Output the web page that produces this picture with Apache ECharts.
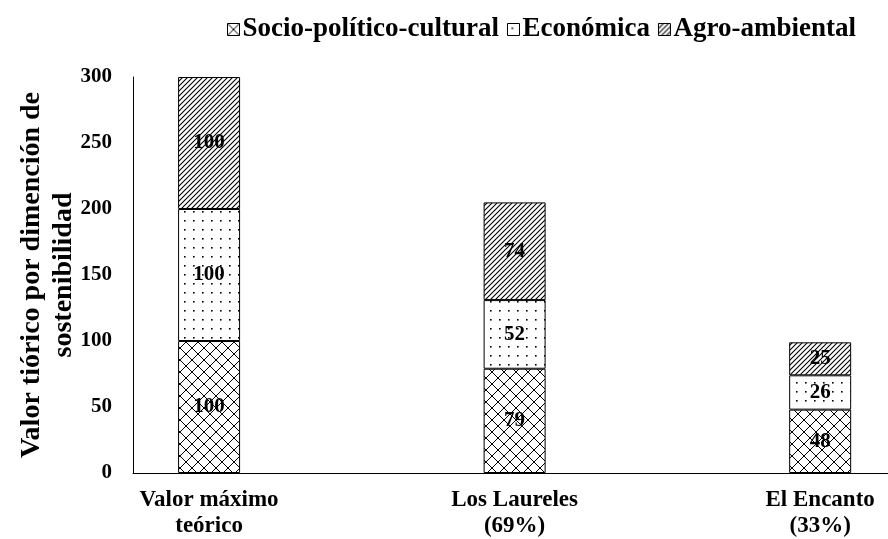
<!DOCTYPE html>
<html>
<head>
<meta charset="utf-8">
<script src="https://cdn.jsdelivr.net/npm/echarts@6/dist/echarts.min.js"></script>
<style>
  html, body { margin: 0; padding: 0; background: #fff; }
  #chart { width: 888px; height: 539px; }
</style>
</head>
<body>
<div id="chart"></div>
<script>
  var categories = ["Valor máximo\nteórico", "Los Laureles\n(69%)", "El Encanto\n(33%)"];
  var socio = [100, 79, 48];     // Socio-político-cultural
  var economica = [100, 52, 26]; // Económica
  var agro = [100, 74, 25];      // Agro-ambiental
  var yTicks = [0, 50, 100, 150, 200, 250, 300];

  var font = "'Liberation Serif', 'Times New Roman', serif";

  // patrones de relleno
  function makePattern(size, draw) {
    var c = document.createElement('canvas');
    c.width = size;
    c.height = size;
    var ctx = c.getContext('2d');
    ctx.fillStyle = '#fff';
    ctx.fillRect(0, 0, size, size);
    ctx.strokeStyle = '#000';
    ctx.fillStyle = '#000';
    draw(ctx, size);
    return { image: c, repeat: 'repeat' };
  }

  var crossHatch = makePattern(12, function (ctx, s) {
    ctx.lineWidth = 1;
    ctx.beginPath();
    ctx.moveTo(0, 0); ctx.lineTo(s, s);
    ctx.moveTo(s, 0); ctx.lineTo(0, s);
    ctx.stroke();
  });
  var dots = makePattern(9, function (ctx, s) {
    ctx.fillRect(4, 4, 1.6, 1.6);
  });
  var diag = makePattern(5, function (ctx, s) {
    ctx.lineWidth = 1.1;
    ctx.beginPath();
    ctx.moveTo(-1, s + 1); ctx.lineTo(s + 1, -1);
    ctx.moveTo(-1, 1); ctx.lineTo(1, -1);
    ctx.moveTo(s - 1, s + 1); ctx.lineTo(s + 1, s - 1);
    ctx.stroke();
  });

  // [valor, posición] -> el valor va primero para que se apile en y
  function pairs(arr) {
    return arr.map(function (v, i) { return [v, i]; });
  }

  var chart = echarts.init(document.getElementById('chart'));

  var labelStyle = {
    show: true,
    position: 'inside',
    color: '#000',
    fontFamily: font,
    fontWeight: 'bold',
    fontSize: 21,
    formatter: function (p) { return p.value[0]; }
  };

  function barSeries(name, data, pattern) {
    return {
      name: name,
      type: 'bar',
      stack: 'total',
      barWidth: 62,
      dimensions: ['valor', 'pos'],
      encode: { x: 'pos', y: 'valor' },
      data: pairs(data),
      itemStyle: { color: pattern, borderColor: '#000', borderWidth: 1 },
      label: labelStyle
    };
  }

  var option = {
    backgroundColor: '#fff',
    animation: false,
    legend: {
      top: 11,
      left: 222,
      itemWidth: 12,
      itemHeight: 12,
      itemGap: 8,
      icon: 'rect',
      textStyle: { fontFamily: font, fontWeight: 'bold', fontSize: 27, color: '#000', padding: [0, 0, 0, -2] },
      data: [
        { name: 'Socio-político-cultural', itemStyle: { color: crossHatch, borderColor: '#000', borderWidth: 1 } },
        { name: 'Económica', itemStyle: { color: dots, borderColor: '#000', borderWidth: 1 } },
        { name: 'Agro-ambiental', itemStyle: { color: diag, borderColor: '#000', borderWidth: 1 } }
      ]
    },
    grid: {
      left: 133,
      right: 0,
      top: 77,
      bottom: 66,
      containLabel: false,
      outerBoundsMode: 'none'
    },
    xAxis: {
      type: 'value',
      min: -0.249,
      max: 2.222,
      splitLine: { show: false },
      axisTick: { show: false },
      axisLine: { show: true, onZero: false, lineStyle: { color: '#000', width: 1 } },
      axisLabel: {
        customValues: [0, 1, 2],
        formatter: function (v) { return categories[Math.round(v)]; },
        color: '#000',
        fontFamily: font,
        fontWeight: 'bold',
        fontSize: 23,
        lineHeight: 26,
        margin: 14
      }
    },
    yAxis: {
      type: 'value',
      min: yTicks[0],
      max: yTicks[yTicks.length - 1],
      interval: 50,
      name: 'Valor tiórico por dimención de\nsostenibilidad',
      nameLocation: 'middle',
      nameRotate: 90,
      nameGap: 53,
      nameMoveOverlap: false,
      nameTextStyle: { fontFamily: font, fontWeight: 'bold', fontSize: 28, color: '#000', lineHeight: 32 },
      splitLine: { show: false },
      axisTick: { show: false },
      axisLine: { show: true, onZero: false, lineStyle: { color: '#000', width: 1 } },
      axisLabel: {
        color: '#000',
        fontFamily: font,
        fontWeight: 'bold',
        fontSize: 21,
        margin: 21
      }
    },
    series: [
      barSeries('Socio-político-cultural', socio, crossHatch),
      barSeries('Económica', economica, dots),
      barSeries('Agro-ambiental', agro, diag)
    ]
  };

  chart.setOption(option);
</script>
</body>
</html>
